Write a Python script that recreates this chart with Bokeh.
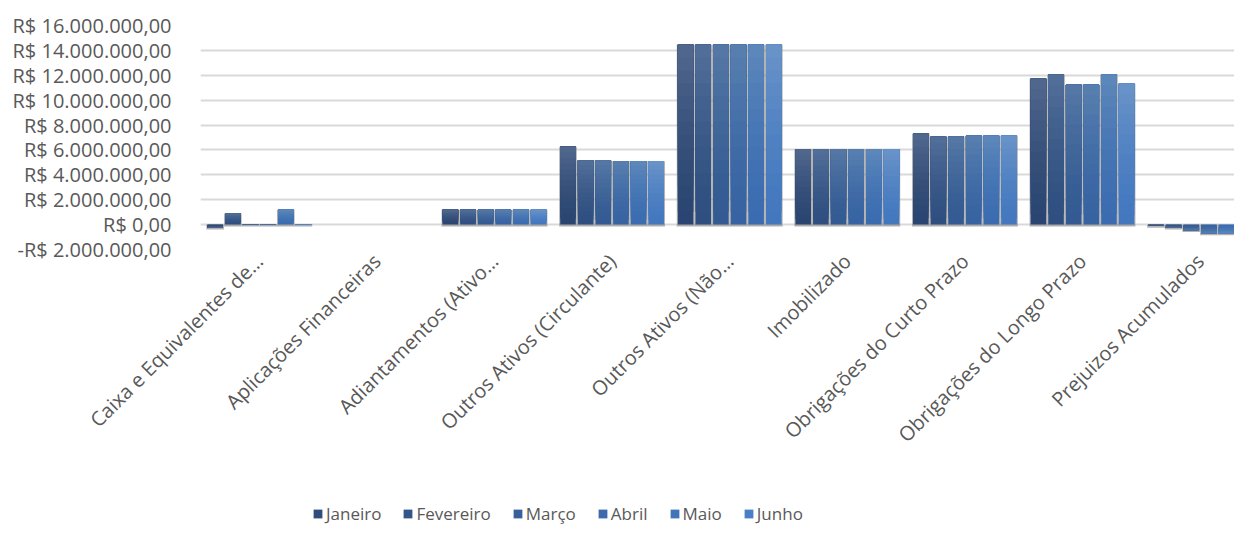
from math import pi
from bokeh.plotting import figure
from bokeh.layouts import column
from bokeh.models import ColumnDataSource, FixedTicker, Legend, LegendItem, Range1d
from bokeh.embed import file_html
from bokeh.resources import INLINE

categories = [
    "Caixa e Equivalentes de…",
    "Aplicações Financeiras",
    "Adiantamentos (Ativo…",
    "Outros Ativos (Circulante)",
    "Outros Ativos (Não…",
    "Imobilizado",
    "Obrigações do Curto Prazo",
    "Obrigações do Longo Prazo",
    "Prejuizos Acumulados",
]
months = ["Janeiro", "Fevereiro", "Março", "Abril", "Maio", "Junho"]

janeiro = [-250000, 0, 1200000, 6260000, 14450000, 6050000, 7300000, 11720000, -100000]
fevereiro = [900000, 0, 1200000, 5150000, 14450000, 6050000, 7060000, 12040000, -250000]
marco = [50000, 0, 1200000, 5150000, 14450000, 6050000, 7060000, 11240000, -450000]
abril = [50000, 0, 1200000, 5100000, 14450000, 6050000, 7140000, 11240000, -700000]
maio = [1200000, 0, 1200000, 5100000, 14450000, 6050000, 7140000, 12040000, -700000]
junho = [50000, 0, 1200000, 5100000, 14450000, 6050000, 7140000, 11320000, -900000]
series = [janeiro, fevereiro, marco, abril, maio, junho]

y_ticks = [-2000000, 0, 2000000, 4000000, 6000000, 8000000, 10000000, 12000000, 14000000, 16000000]
y_tick_labels = ["-R$ 2.000.000,00", "R$ 0,00", "R$ 2.000.000,00", "R$ 4.000.000,00",
                 "R$ 6.000.000,00", "R$ 8.000.000,00", "R$ 10.000.000,00",
                 "R$ 12.000.000,00", "R$ 14.000.000,00", "R$ 16.000.000,00"]

# bottom / top colours of each series' vertical gradient
bottom_colors = ["#2a4571", "#2e4f80", "#335a92", "#3763a2", "#3b6cb1", "#4378bf"]
top_colors = ["#52698f", "#53709a", "#5679a6", "#5880b0", "#5d88bb", "#6a94c9"]
legend_colors = ["#2f4c7a", "#33568a", "#38619b", "#3c6aaa", "#4174b8", "#4b7fc5"]

FONT = "Open Sans"
TXT = "#595959"


def mix(c1, c2, t):
    a = [int(c1[i:i + 2], 16) for i in (1, 3, 5)]
    b = [int(c2[i:i + 2], 16) for i in (1, 3, 5)]
    return "#" + "".join("%02x" % round(x + (y - x) * t) for x, y in zip(a, b))


W = 1234
H_MAIN, H_LEG = 496, 30
left = 200
top_b = 25
frame_bottom = 249
cat_px = 117.6
x_end = (W - left) / cat_px

p = figure(width=W, height=H_MAIN, output_backend="svg", toolbar_location=None,
           x_range=Range1d(0, x_end), y_range=Range1d(-2000000, 16000000),
           min_border_left=left, min_border_right=0, min_border_top=top_b,
           min_border_bottom=H_MAIN - frame_bottom)
p.outline_line_color = None
p.background_fill_color = "white"
p.border_fill_color = "white"

bar_w = 0.132
step = 0.15
N = 14
for k, (vals, cb, ct) in enumerate(zip(series, bottom_colors, top_colors)):
    xs = [i + 0.5 + (k - 2.5) * step for i in range(len(categories))]
    shadow_top = [max(v, 0) for v in vals]
    shadow_bottom = [(min(v, 0) - 150000) if v != 0 else 0 for v in vals]
    ssrc = ColumnDataSource(dict(x=xs, top=shadow_top, bottom=shadow_bottom))
    p.vbar(x="x", top="top", bottom="bottom", width=step, source=ssrc,
           fill_color="#808080", fill_alpha=0.6, line_color=None)
    # vertical gradient: overlapping layers, each starting higher up the bar
    for j in range(N):
        src = ColumnDataSource(dict(
            x=xs,
            bottom=[v * j / N for v in vals],
            top=vals,
        ))
        t = ((j + 0.5) / N) ** 1.5
        p.vbar(x="x", top="top", bottom="bottom", width=bar_w, source=src,
               fill_color=mix(cb, ct, t), line_color=None)

p.xaxis.ticker = FixedTicker(ticks=[i + 0.5 for i in range(len(categories))])
p.xaxis.major_label_overrides = {i + 0.5: c for i, c in enumerate(categories)}
p.xaxis.major_label_orientation = pi / 4
p.xaxis.axis_line_color = None
p.xaxis.major_tick_line_color = None
p.xaxis.minor_tick_line_color = None
p.xaxis.major_label_text_font = FONT
p.xaxis.major_label_text_font_size = "20px"
p.xaxis.major_label_text_color = TXT
p.xaxis.major_label_standoff = 2
p.xgrid.grid_line_color = None

p.yaxis.ticker = FixedTicker(ticks=y_ticks)
p.yaxis.major_label_overrides = {t: l for t, l in zip(y_ticks, y_tick_labels)}
p.yaxis.axis_line_color = None
p.yaxis.major_tick_line_color = None
p.yaxis.minor_tick_line_color = None
p.yaxis.major_label_text_font = FONT
p.yaxis.major_label_text_font_size = "20px"
p.yaxis.major_label_text_color = TXT
p.yaxis.major_label_standoff = 23
p.ygrid.grid_line_color = "#d9d9d9"
p.ygrid.grid_line_width = 2

# legend strip below the chart
lg = figure(width=W, height=H_LEG, output_backend="svg", toolbar_location=None,
            x_range=Range1d(0, 1), y_range=Range1d(0, 1), min_border=0)
lg.axis.visible = False
lg.grid.grid_line_color = None
lg.outline_line_color = None
items = []
for m, c in zip(months, legend_colors):
    r = lg.vbar(x=[0.5], top=[0], bottom=[0], width=0.0, fill_color=c,
                line_color=None)
    items.append(LegendItem(label=m, renderers=[r]))
legend = Legend(items=items, orientation="horizontal", location=(112, 1),
                glyph_width=11, glyph_height=11, label_standoff=3, spacing=21,
                label_text_font=FONT, label_text_font_size="17px",
                label_text_color=TXT, border_line_color=None,
                background_fill_alpha=0, padding=0, margin=0)
lg.add_layout(legend, "center")

layout = column(p, lg, spacing=0)
open("out.html", "w").write(file_html(layout, INLINE))
